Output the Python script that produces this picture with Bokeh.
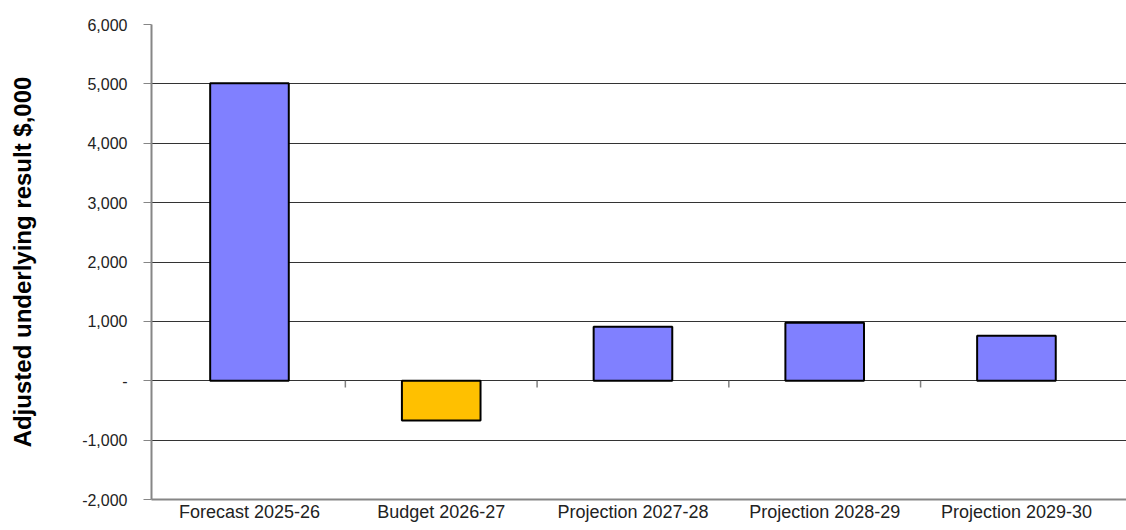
from bokeh.plotting import figure
from bokeh.models import Range1d, FixedTicker, ColumnDataSource
from bokeh.embed import file_html
from bokeh.resources import INLINE

categories = ["Forecast 2025-26", "Budget 2026-27", "Projection 2027-28",
              "Projection 2028-29", "Projection 2029-30"]
values = [5010, -670, 910, 975, 760]
bar_colors = ["#8080FF", "#FFC000", "#8080FF", "#8080FF", "#8080FF"]
y_ticks = [-2000, -1000, 0, 1000, 2000, 3000, 4000, 5000, 6000]
y_tick_labels = ["-2,000", "-1,000", "-", "1,000", "2,000", "3,000", "4,000", "5,000", "6,000"]

xs = [i + 0.5 for i in range(len(categories))]
src = ColumnDataSource(dict(x=xs, top=values, color=bar_colors))

p = figure(width=1126, height=530, output_backend="svg", toolbar_location=None,
           x_range=Range1d(-0.011, 5.074), y_range=Range1d(-2000, 6000),
           min_border_left=151, min_border_right=0, min_border_top=24, min_border_bottom=31)
p.outline_line_color = None
p.background_fill_color = "white"
p.border_fill_color = "white"

# grid
p.xgrid.grid_line_color = None
p.ygrid.grid_line_color = "#333333"
p.ygrid.grid_line_width = 1

p.vbar(x="x", top="top", bottom=0, width=0.41, fill_color="color",
       line_color="black", line_width=2, source=src)

# category boundary tick marks on the zero line
bounds = list(range(1, len(categories)))
p.segment(x0=bounds, y0=[0] * len(bounds), x1=bounds, y1=[-115] * len(bounds),
          line_color="#808080", line_width=1.5)

# y axis
p.yaxis.ticker = FixedTicker(ticks=y_ticks)
p.yaxis.major_label_overrides = {t: l for t, l in zip(y_ticks, y_tick_labels)}
p.yaxis.axis_line_color = "#868686"
p.yaxis.axis_line_width = 2
p.yaxis.major_tick_line_color = "#868686"
p.yaxis.major_tick_out = 8
p.yaxis.major_tick_in = 0
p.yaxis.minor_tick_line_color = None
p.yaxis.major_label_standoff = 16
p.yaxis.major_label_text_font = "Liberation Sans"
p.yaxis.major_label_text_font_size = "16px"
p.yaxis.major_label_text_color = "#222222"
p.yaxis.axis_label = "Adjusted underlying result $,000"
p.yaxis.axis_label_text_font = "Liberation Sans"
p.yaxis.axis_label_text_font_style = "bold"
p.yaxis.axis_label_text_font_size = "24px"
p.yaxis.axis_label_text_color = "black"
p.yaxis.axis_label_standoff = 43

# x axis
p.xaxis.ticker = FixedTicker(ticks=xs)
p.xaxis.major_label_overrides = {x: c for x, c in zip(xs, categories)}
p.xaxis.axis_line_color = "#868686"
p.xaxis.axis_line_width = 2
p.xaxis.major_tick_line_color = None
p.xaxis.major_tick_out = 0
p.xaxis.major_tick_in = 0
p.xaxis.minor_tick_line_color = None
p.xaxis.major_label_standoff = 2
p.xaxis.major_label_text_font = "Liberation Sans"
p.xaxis.major_label_text_font_size = "18px"
p.xaxis.major_label_text_color = "#222222"

open("out.html", "w").write(file_html(p, INLINE))
